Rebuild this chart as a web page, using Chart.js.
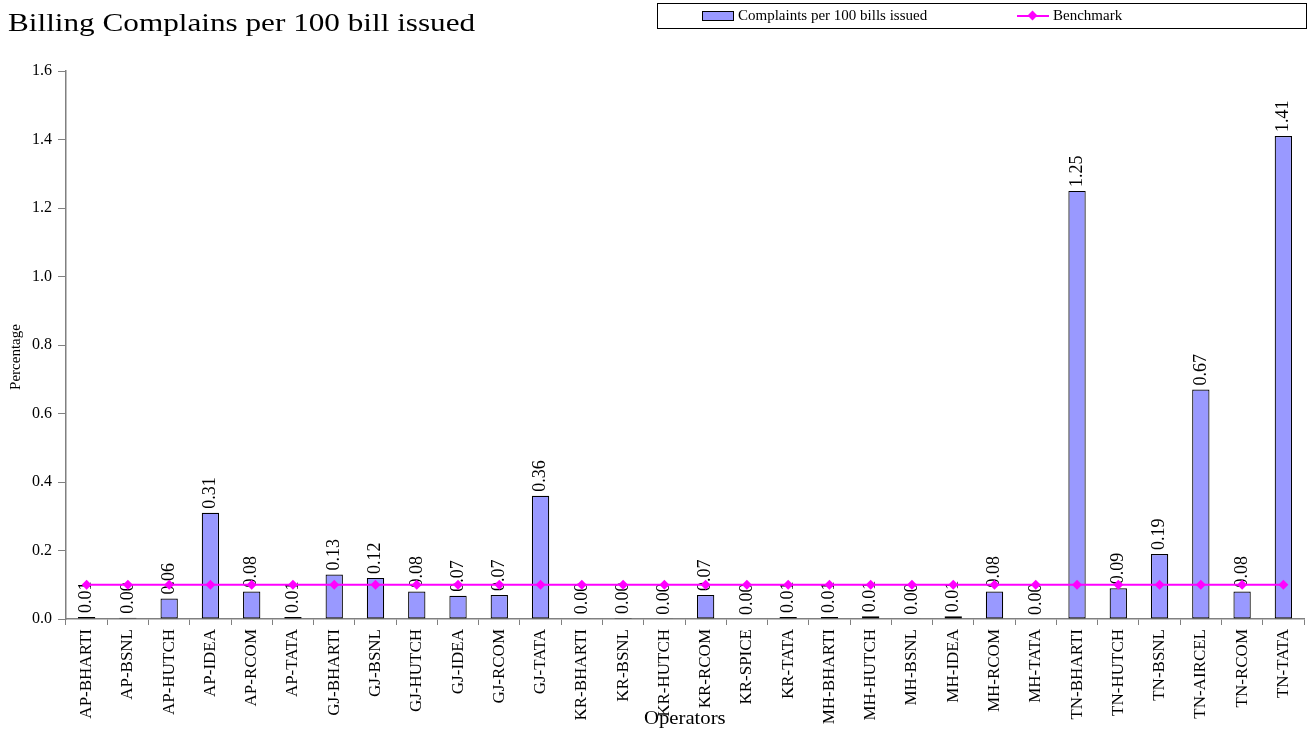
<!DOCTYPE html>
<html>
<head>
<meta charset="utf-8">
<script src="https://cdn.jsdelivr.net/npm/chart.js@4"></script>
<style>
    html, body { margin: 0; padding: 0; background: #fff; }
    #wrap { position: relative; width: 1309px; height: 736px; font-family: "Liberation Serif", "DejaVu Serif", serif; }
    #title { position: absolute; left: 8px; top: 8px; font-size: 26px; color: #000; white-space: nowrap; transform: scaleX(1.2); transform-origin: left top; }
    #legend { position: absolute; left: 657px; top: 3px; width: 650px; height: 26px; border: 1px solid #000; box-sizing: border-box; font-size: 15px; }
    #legend .item { position: absolute; top: 3px; display: flex; align-items: center; white-space: nowrap; }
    #legend .swatch { width: 30px; height: 8px; background: #9999ff; border: 1px solid #000; margin-right: 4px; }
    #legend .line { position: relative; width: 32px; height: 2px; background: #ff00ff; margin-right: 4px; }
    #legend .line::after { content: ""; position: absolute; left: 12px; top: -3px; width: 7px; height: 7px; background: #ff00ff; transform: rotate(45deg); }
    #xtitle { position: absolute; left: 644px; top: 708px; font-size: 18px; transform: scaleX(1.15); transform-origin: left top; }
</style>
</head>
<body>
<div id="wrap">
    <canvas id="chart" width="1309" height="736"></canvas>
    <div id="title">Billing Complains per 100 bill issued</div>
    <div id="legend">
        <div class="item" style="left: 44px;"><span class="swatch"></span>Complaints per 100 bills issued</div>
        <div class="item" style="left: 359px;"><span class="line"></span>Benchmark</div>
    </div>
    <div id="xtitle">Operators</div>
</div>
<script>
const operators = [
    "AP-BHARTI", "AP-BSNL", "AP-HUTCH", "AP-IDEA", "AP-RCOM", "AP-TATA",
    "GJ-BHARTI", "GJ-BSNL", "GJ-HUTCH", "GJ-IDEA", "GJ-RCOM", "GJ-TATA",
    "KR-BHARTI", "KR-BSNL", "KR-HUTCH", "KR-RCOM", "KR-SPICE", "KR-TATA",
    "MH-BHARTI", "MH-HUTCH", "MH-BSNL", "MH-IDEA", "MH-RCOM", "MH-TATA",
    "TN-BHARTI", "TN-HUTCH", "TN-BSNL", "TN-AIRCEL", "TN-RCOM", "TN-TATA"
];
const complaints = [
    0.006, 0.004, 0.06, 0.31, 0.08, 0.006,
    0.13, 0.12, 0.08, 0.068, 0.07, 0.36,
    0.002, 0.003, 0.001, 0.07, 0.0, 0.006,
    0.006, 0.008, 0.001, 0.008, 0.08, 0.0,
    1.25, 0.09, 0.19, 0.67, 0.08, 1.41
];
const benchmark = operators.map(() => 0.1);
const yTicks = [0, 0.2, 0.4, 0.6, 0.8, 1.0, 1.2, 1.4, 1.6];

const serif = "'Liberation Serif', 'DejaVu Serif', serif";
Chart.defaults.font.family = serif;
Chart.defaults.color = "#000";

// value labels written upward above each bar
const barLabels = {
    id: "barLabels",
    afterDatasetDraw(chart, args) {
        if (chart.data.datasets[args.index].type !== "bar") return;
        const ctx = chart.ctx;
        ctx.save();
        ctx.font = "18px " + serif;
        ctx.fillStyle = "#000";
        ctx.textAlign = "left";
        ctx.textBaseline = "middle";
        args.meta.data.forEach((bar, i) => {
            ctx.save();
            ctx.translate(bar.x, bar.y - 4);
            ctx.rotate(-Math.PI / 2);
            ctx.fillText(complaints[i].toFixed(2), 0, 0);
            ctx.restore();
        });
        ctx.restore();
    },
};

// y axis caption sits a little below the middle of the plot
const yCaption = {
    id: "yCaption",
    afterDraw(chart) {
        const ctx = chart.ctx;
        ctx.save();
        ctx.font = "15px " + serif;
        ctx.fillStyle = "#000";
        ctx.textAlign = "center";
        ctx.textBaseline = "middle";
        ctx.translate(16, 357);
        ctx.rotate(-Math.PI / 2);
        ctx.fillText("Percentage", 0, 0);
        ctx.restore();
    },
};

new Chart(document.getElementById("chart").getContext("2d"), {
    data: {
        labels: operators,
        datasets: [
            {
                type: "line",
                label: "Benchmark",
                data: benchmark,
                borderColor: "#ff00ff",
                backgroundColor: "#ff00ff",
                borderWidth: 1.8,
                pointStyle: "rectRot",
                pointRadius: 5,
                pointBorderWidth: 0,
                order: 0,
            },
            {
                type: "bar",
                label: "Complaints per 100 bills issued",
                data: complaints,
                backgroundColor: "#9999ff",
                borderColor: "#000",
                borderWidth: 1.2,
                borderSkipped: false,
                barPercentage: 0.42,
                categoryPercentage: 1,
                order: 1,
            },
        ],
    },
    options: {
        responsive: false,
        animation: false,
        layout: { padding: { top: 71, right: 0, left: 0, bottom: 0 } },
        plugins: {
            legend: { display: false },
            tooltip: { enabled: false },
        },
        scales: {
            x: {
                grid: {
                    display: true,
                    offset: true,
                    drawOnChartArea: false,
                    drawTicks: true,
                    tickLength: 6,
                    color: "#808080",
                },
                border: { color: "#808080", width: 1.5 },
                ticks: {
                    autoSkip: false,
                    maxRotation: 90,
                    minRotation: 90,
                    padding: 4,
                    font: { size: 17 },
                },
                afterFit(scale) {
                    scale.height = 117;
                },
            },
            y: {
                min: 0,
                max: 1.6,
                afterBuildTicks(scale) {
                    scale.ticks = yTicks.map((v) => ({ value: v }));
                },
                grid: {
                    display: true,
                    drawOnChartArea: false,
                    drawTicks: true,
                    tickLength: 8,
                    color: "#808080",
                },
                border: { color: "#808080", width: 1.5 },
                ticks: {
                    padding: 6,
                    font: { size: 16 },
                    callback: (v) => Number(v).toFixed(1),
                },
                afterFit(scale) {
                    scale.width = 66;
                },
            },
        },
    },
    plugins: [barLabels, yCaption],
});
</script>
</body>
</html>
